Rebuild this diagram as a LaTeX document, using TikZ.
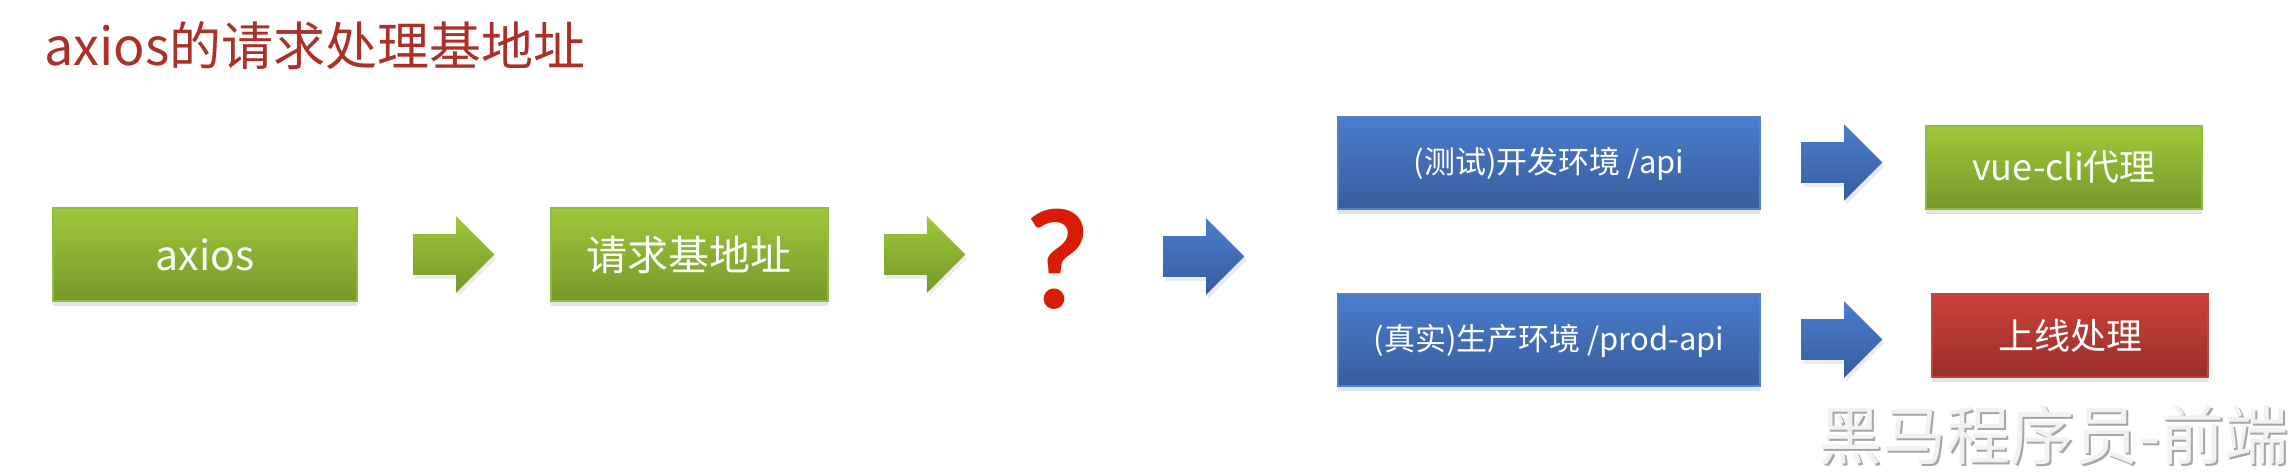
\documentclass[tikz,border=0pt]{standalone}
\usepackage{fontspec}
\setmainfont{Noto Sans CJK SC}
\newfontfamily\qfont{Lato}
\usepackage{xcolor}
\usetikzlibrary{positioning, shapes.arrows, shadows}

\definecolor{greentop}{RGB}{160,200,58}
\definecolor{greenbot}{RGB}{117,152,42}
\definecolor{greenline}{RGB}{143,188,62}
\definecolor{bluetop}{RGB}{74,125,205}
\definecolor{bluebot}{RGB}{55,92,157}
\definecolor{blueline}{RGB}{82,130,200}
\definecolor{redtop}{RGB}{201,66,57}
\definecolor{redbot}{RGB}{154,46,42}
\definecolor{redline}{RGB}{190,70,62}
\definecolor{titlered}{RGB}{170,48,40}
\definecolor{qred}{RGB}{216,28,6}

\tikzset{
  box/.style={rectangle, inner sep=0pt, text=white, line width=1pt,
    drop shadow={shadow xshift=0pt, shadow yshift=-2.5pt, opacity=.22}},
  greenbox/.style={box, top color=greentop, bottom color=greenbot, draw=greenline},
  bluebox/.style={box, top color=bluetop, bottom color=bluebot, draw=blueline,
    minimum width=211pt, minimum height=46pt, font=\fontsize{15.5}{18}\selectfont},
  redbox/.style={box, top color=redtop, bottom color=redbot, draw=redline},
  blockarrow/.style={single arrow, inner xsep=0pt, inner ysep=10pt,
    single arrow head extend=9pt, minimum height=40.5pt, anchor=west,
    drop shadow={shadow xshift=1pt, shadow yshift=-2pt, opacity=.15}},
  greenarrow/.style={blockarrow, top color=greentop, bottom color=greenbot},
  bluearrow/.style={blockarrow, top color=bluetop, bottom color=bluebot},
}

\begin{document}
\begin{tikzpicture}[x=0.5pt, y=-0.5pt, node distance=27.5pt]
        \fill[white] (0,0) rectangle (2296,474);
        \useasboundingbox (0,0) rectangle (2296,474);

        \node[anchor=west, inner sep=0pt, text=titlered, font=\fontsize{26}{30}\selectfont]
            (title) at (44,46) {axios的请求处理基地址};

        \node[greenbox, minimum width=152pt, minimum height=46.5pt, font=\fontsize{20.5}{24}\selectfont]
            (axios) at (205,254.5) {axios};
        \node[greenarrow, right=of axios] (arr1) {};
        \node[greenbox, right=of arr1, minimum width=138.5pt, minimum height=46.5pt,
            font=\fontsize{20.5}{24}\selectfont] (base) {请求基地址};
        \node[greenarrow, right=of base] (arr2) {};
        \node[inner sep=0pt, text=qred, font=\qfont\bfseries\fontsize{68}{68}\selectfont]
            (q) at (1058,259.5) {?};
        \node[bluearrow] (arr3) at (1163,256.5) {};

        \node[bluebox] (dev) at (1549,163.5) {(测试)开发环境 /api};
        \node[bluearrow] (arr4) at (1801,162.5) {};
        \node[greenbox, minimum width=138pt, minimum height=41.5pt, font=\fontsize{18}{22}\selectfont]
            (proxy) at (2064,167.5) {vue-cli代理};

        \node[bluebox] (prod) at (1549,340.5) {(真实)生产环境 /prod-api};
        \node[bluearrow] (arr5) at (1801,339.5) {};
        \node[redbox, minimum width=138pt, minimum height=41.5pt, font=\fontsize{18}{22}\selectfont]
            (online) at (2070,335.5) {上线处理};

        \node[anchor=east, inner sep=0pt, text=gray!70, font=\fontsize{32}{36}\selectfont]
            (markshade) at (2291,437) {黑马程序员-前端};
        \node[anchor=east, inner sep=0pt, text=gray!10, font=\fontsize{32}{36}\selectfont]
            (mark) at (2289,435) {黑马程序员-前端};
\end{tikzpicture}
\end{document}
